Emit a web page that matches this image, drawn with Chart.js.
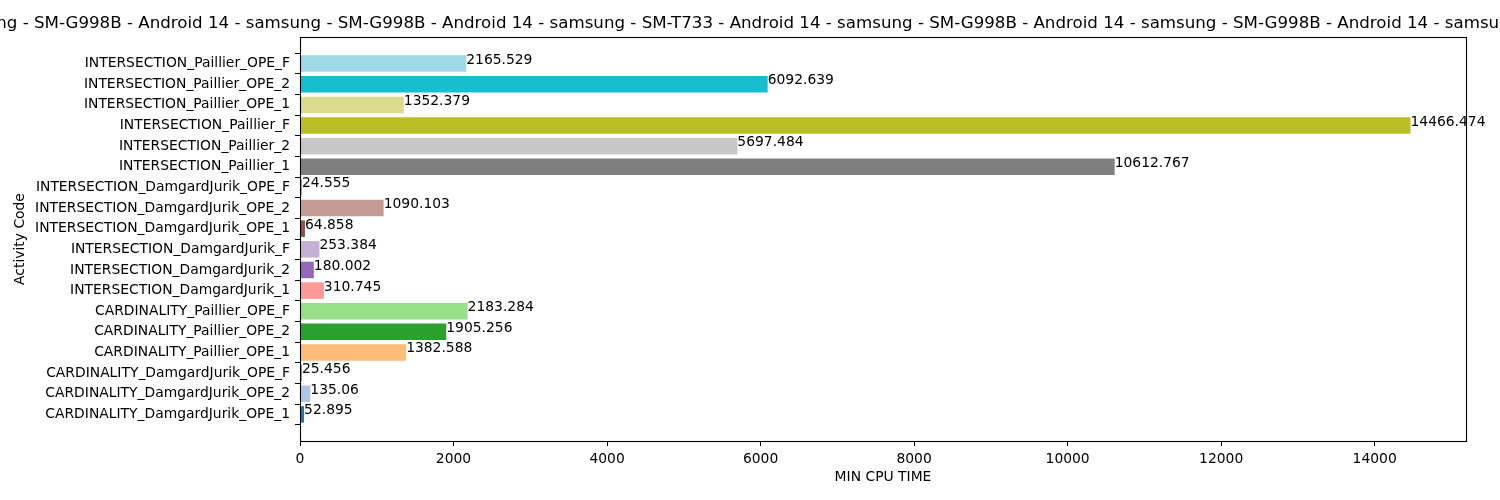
<!DOCTYPE html>
<html>
<head>
<meta charset="utf-8">
<script src="https://cdn.jsdelivr.net/npm/chart.js@4/dist/chart.umd.min.js"></script>
<style>
  html, body { margin: 0; padding: 0; background: #ffffff; }
  #wrap { width: 1500px; height: 500px; position: relative; }
</style>
</head>
<body>
<div id="wrap"><canvas id="c" width="1500" height="500"></canvas></div>
<script>
const categories = [
  "CARDINALITY_DamgardJurik_OPE_1",
  "CARDINALITY_DamgardJurik_OPE_2",
  "CARDINALITY_DamgardJurik_OPE_F",
  "CARDINALITY_Paillier_OPE_1",
  "CARDINALITY_Paillier_OPE_2",
  "CARDINALITY_Paillier_OPE_F",
  "INTERSECTION_DamgardJurik_1",
  "INTERSECTION_DamgardJurik_2",
  "INTERSECTION_DamgardJurik_F",
  "INTERSECTION_DamgardJurik_OPE_1",
  "INTERSECTION_DamgardJurik_OPE_2",
  "INTERSECTION_DamgardJurik_OPE_F",
  "INTERSECTION_Paillier_1",
  "INTERSECTION_Paillier_2",
  "INTERSECTION_Paillier_F",
  "INTERSECTION_Paillier_OPE_1",
  "INTERSECTION_Paillier_OPE_2",
  "INTERSECTION_Paillier_OPE_F"
];
const minCpuTime = [
  52.895, 135.06, 25.456, 1382.588, 1905.256, 2183.284,
  310.745, 180.002, 253.384, 64.858, 1090.103, 24.555,
  10612.767, 5697.484, 14466.474, 1352.379, 6092.639, 2165.529
];
const barColors = [
  "#1f77b4", "#aec7e8", "#ff7f0e", "#ffbb78", "#2ca02c", "#98df8a",
  "#ff9896", "#9467bd", "#c5b0d5", "#8c564b", "#c49c94", "#e377c2",
  "#7f7f7f", "#c7c7c7", "#bcbd22", "#dbdb8d", "#17becf", "#9edae5"
];
const xTicks = [0, 2000, 4000, 6000, 8000, 10000, 12000, 14000];
const devices = [
  "samsung - SM-G998B - Android 14",
  "samsung - SM-G998B - Android 14",
  "samsung - SM-T733 - Android 14",
  "samsung - SM-G998B - Android 14",
  "samsung - SM-G998B - Android 14",
  "samsung - SM-G998B - Android 14",
  "samsung"
];
const chartTitle = devices.join(" - ");
const xAxisTitle = "MIN CPU TIME";
const yAxisTitle = "Activity Code";

const FONT = "'DejaVu Sans', 'Liberation Sans', sans-serif";
const xMax = Math.max(...minCpuTime) * 1.05;
const yMin = -0.4 - 0.05 * (categories.length - 1 + 0.8);
const yMax = categories.length - 1 + 0.4 + 0.05 * (categories.length - 1 + 0.8);

const framePlugin = {
  id: 'frame',
  afterDatasetsDraw(chart) {
    const {ctx, chartArea} = chart;
    const xs = chart.scales.x, ys = chart.scales.y;
    ctx.save();
    // value labels
    ctx.fillStyle = '#000';
    ctx.font = '13.89px ' + FONT;
    ctx.textAlign = 'left';
    ctx.textBaseline = 'alphabetic';
    minCpuTime.forEach((v, i) => {
      ctx.fillText(String(v), xs.getPixelForValue(v), ys.getPixelForValue(i));
    });
    // frame
    ctx.strokeStyle = '#000';
    ctx.lineWidth = 1.1;
    ctx.strokeRect(Math.round(chartArea.left) + 0.5, Math.round(chartArea.top) + 0.5,
                   Math.round(chartArea.right - chartArea.left), Math.round(chartArea.bottom - chartArea.top));
    // title
    ctx.font = '16.67px ' + FONT;
    ctx.textAlign = 'center';
    ctx.textBaseline = 'alphabetic';
    ctx.fillText(chartTitle, (chartArea.left + chartArea.right) / 2, 28.3);
    ctx.restore();
  }
};

new Chart(document.getElementById('c'), {
  type: 'bar',
  data: {
    datasets: [{
      data: minCpuTime.map((v, i) => ({x: v, y: i})),
      backgroundColor: barColors,
      borderWidth: 0,
      categoryPercentage: 0.8,
      barPercentage: 1.0
    }]
  },
  plugins: [framePlugin],
  options: {
    indexAxis: 'y',
    responsive: false,
    animation: false,
    devicePixelRatio: 1,
    layout: { padding: { top: 37, right: 34, left: 0, bottom: 0 } },
    plugins: { legend: { display: false }, tooltip: { enabled: false }, title: { display: false } },
    scales: {
      x: {
        type: 'linear',
        position: 'bottom',
        offset: false,
        min: 0,
        max: xMax,
        afterBuildTicks: (axis) => { axis.ticks = xTicks.map(v => ({value: v})); },
        afterFit: (axis) => { axis.height = 59; },
        border: { display: false },
        grid: { drawOnChartArea: false, drawTicks: true, tickLength: 5, tickColor: '#000', lineWidth: 1 },
        ticks: { color: '#000', font: { family: FONT, size: 13.89 }, padding: 5, maxRotation: 0,
                 callback: (v) => String(v) },
        title: { display: true, text: xAxisTitle, color: '#000', font: { family: FONT, size: 13.89 },
                 padding: { top: 0, bottom: 14.5 } }
      },
      y: {
        type: 'linear',
        position: 'left',
        offset: false,
        min: yMin,
        max: yMax,
        afterBuildTicks: (axis) => { axis.ticks = categories.map((_, i) => ({value: i})); },
        afterFit: (axis) => { axis.width = 300; },
        border: { display: false },
        grid: { drawOnChartArea: false, drawTicks: true, tickLength: 5, tickColor: '#000', lineWidth: 1 },
        ticks: { color: '#000', font: { family: FONT, size: 13.89 }, padding: 5, autoSkip: false,
                 callback: (v) => categories[v] !== undefined ? categories[v] : '' },
        title: { display: true, text: yAxisTitle, color: '#000', font: { family: FONT, size: 13.89 },
                 padding: { top: 11.7, bottom: 0 } }
      }
    }
  }
});
</script>
</body>
</html>
